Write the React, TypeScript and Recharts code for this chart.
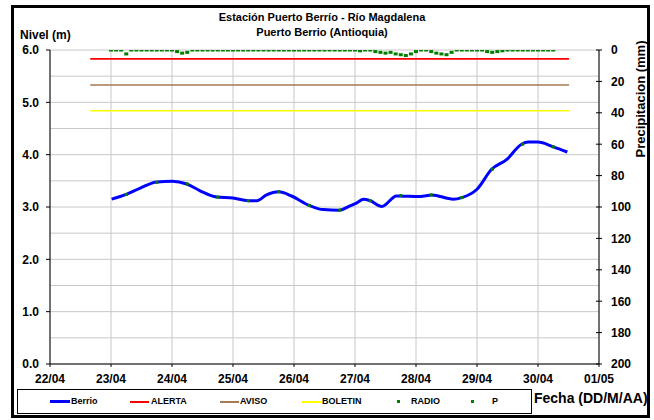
import React from 'react';
import { ComposedChart, Line, Scatter, XAxis, YAxis, CartesianGrid } from 'recharts';

// ---- data ----
const dateLabels = ['22/04', '23/04', '24/04', '25/04', '26/04', '27/04', '28/04', '29/04', '30/04', '01/05'];
const dayTicks = [0, 1, 2, 3, 4, 5, 6, 7, 8, 9];
const levelTicks = [0, 0.5, 1, 1.5, 2, 2.5, 3, 3.5, 4, 4.5, 5, 5.5, 6];
const precipTicks = [0, 20, 40, 60, 80, 100, 120, 140, 160, 180, 200];

// Berrio level (days since 22/04 00:00, metres)
const berrioTime = [1.01, 1.25, 1.48, 1.75, 2.0, 2.24, 2.46, 2.73, 3.0, 3.25, 3.39, 3.55, 3.75, 3.96, 4.25, 4.48, 4.74, 4.92, 5.03, 5.14, 5.25, 5.44, 5.68, 6.07, 6.26, 6.61, 6.75, 7.0, 7.24, 7.49, 7.73, 7.84, 8.0, 8.25, 8.48];
const berrioLevel = [3.15, 3.24, 3.36, 3.48, 3.49, 3.44, 3.31, 3.19, 3.17, 3.12, 3.12, 3.23, 3.29, 3.21, 3.03, 2.95, 2.94, 3.02, 3.08, 3.15, 3.12, 3.01, 3.21, 3.2, 3.23, 3.15, 3.18, 3.34, 3.72, 3.91, 4.2, 4.24, 4.24, 4.15, 4.05];

// RADIO readings
const radioTime = [1.25, 1.75, 2.25, 2.75, 3.25, 3.75, 4.25, 4.75, 5.25, 5.75, 6.25, 6.75, 7.25, 7.75, 8.25];
const radioLevel = [3.24, 3.47, 3.44, 3.19, 3.12, 3.29, 3.03, 2.94, 3.12, 3.22, 3.23, 3.18, 3.72, 4.2, 4.15];

// Precipitation P (mm), every 2 hours from 23/04 00:00
const pStartDay = 1;
const pStepHours = 2;
const pValues = [
  0, 0, 0, 2.5, 0, 0, 0, 0, 0, 0, 0, 0,
  0, 1, 2, 1.5, 0, 0, 0, 0, 0, 0, 0, 0,
  0, 0, 0, 0, 0, 0, 0, 0, 0, 0, 0, 0,
  0, 0, 0, 0, 0, 0, 0, 0, 0, 0, 0, 0,
  0, 0.5, 0, 0, 1, 1.5, 2, 1.5, 2.5, 3, 3.5, 2.5,
  1, 0, 0, 1, 2, 2.5, 3, 1.5, 0, 0, 0, 0,
  0, 0, 1, 1.5, 1, 0.5, 0, 0, 0, 0, 0, 0,
  0, 0, 0, 0,
];

// Threshold levels
const thresholdTime = [0.66, 8.51];
const alertaLevel = 5.83;
const avisoLevel = 5.33;
const boletinLevel = 4.84;

// ---- derived tables ----
const berrioData = berrioTime.map((t, i) => ({ t, v: berrioLevel[i] }));
const radioData = radioTime.map((t, i) => ({ t, v: radioLevel[i] }));
const pData = pValues.map((v, i) => ({ t: pStartDay + (i * pStepHours) / 24, v }));
const alertaData = thresholdTime.map((t) => ({ t, v: alertaLevel }));
const avisoData = thresholdTime.map((t) => ({ t, v: avisoLevel }));
const boletinData = thresholdTime.map((t) => ({ t, v: boletinLevel }));

const FONT = '"Liberation Sans", Arial, Helvetica, sans-serif';
const GREEN = '#008000';
const BROWN = '#A57A55';

const LeftTick = (props: any) => {
  const { x, y, payload } = props;
  const val = payload.value as number;
  if (Math.abs(val - Math.round(val)) > 1e-6) return <g />;
  return (
    <g>
      <line x1={x + 7} x2={x + 11} y1={y} y2={y} stroke="#000" />
      <text x={x} y={y} dy="0.36em" textAnchor="end" fontFamily={FONT} fontWeight="bold" fontSize={12} fill="#000">
        {val.toFixed(1)}
      </text>
    </g>
  );
};

const RightTick = (props: any) => {
  const { x, y, payload } = props;
  return (
    <g>
      <line x1={x - 15} x2={x - 9} y1={y} y2={y} stroke="#000" />
      <text x={x} y={y} dy="0.36em" textAnchor="start" fontFamily={FONT} fontWeight="bold" fontSize={12} fill="#000">
        {payload.value}
      </text>
    </g>
  );
};

const radioShape = (props: any) => (
  <rect x={props.cx - 1.5} y={props.cy - 1.5} width={3} height={3} fill={GREEN} />
);
const pShape = (props: any) => (
  <rect x={props.cx - 2} y={props.cy - 1.5} width={4} height={3} fill={GREEN} />
);

const legendText: React.CSSProperties = {
  position: 'absolute',
  top: 0,
  fontFamily: FONT,
  fontWeight: 'bold',
  fontSize: 9,
  lineHeight: '23px',
  color: '#000',
};

export default function App() {
  return (
    <div style={{ position: 'absolute', left: 0, top: 0, width: 654, height: 420, background: '#fff', overflow: 'hidden' }}>
      <div style={{ position: 'absolute', left: 11, top: 5, width: 633, height: 407, border: '3px solid #000' }} />
      <div style={{ position: 'absolute', left: 0, top: 0 }}>
        <ComposedChart width={654} height={420} margin={{ top: 50, right: 0, bottom: 36, left: 0 }}>
          <CartesianGrid yAxisId="lvl" stroke="#C8C8C8" strokeWidth={1} />
          <XAxis
            dataKey="t"
            type="number"
            domain={[0, 9]}
            ticks={dayTicks}
            interval={0}
            allowDataOverflow
            height={20}
            tickFormatter={(v: number) => dateLabels[v]}
            tickSize={3}
            tickMargin={7}
            axisLine={{ stroke: '#000' }}
            tickLine={{ stroke: '#000' }}
            tick={{ fontFamily: FONT, fontWeight: 'bold', fontSize: 12, fill: '#000' }}
          />
          <YAxis
            yAxisId="lvl"
            orientation="left"
            width={50}
            domain={[0, 6]}
            ticks={levelTicks}
            interval={0}
            allowDataOverflow
            tickLine={false}
            tickSize={0}
            tickMargin={11}
            axisLine={{ stroke: '#000' }}
            tick={LeftTick}
          />
          <YAxis
            yAxisId="pp"
            orientation="right"
            width={55}
            domain={[0, 200]}
            reversed
            ticks={precipTicks}
            interval={0}
            allowDataOverflow
            tickLine={false}
            tickSize={0}
            tickMargin={12}
            axisLine={{ stroke: '#000' }}
            tick={RightTick}
          />
          <Line yAxisId="lvl" data={alertaData} dataKey="v" type="linear" stroke="#FF0000" strokeWidth={1.6} dot={false} activeDot={false} isAnimationActive={false} />
          <Line yAxisId="lvl" data={avisoData} dataKey="v" type="linear" stroke={BROWN} strokeWidth={1.6} dot={false} activeDot={false} isAnimationActive={false} />
          <Line yAxisId="lvl" data={boletinData} dataKey="v" type="linear" stroke="#FFFF00" strokeWidth={1.6} dot={false} activeDot={false} isAnimationActive={false} />
          <Line yAxisId="lvl" data={berrioData} dataKey="v" type="monotone" stroke="#0000FF" strokeWidth={3} dot={false} activeDot={false} isAnimationActive={false} />
          <Scatter yAxisId="lvl" data={radioData} dataKey="v" shape={radioShape} isAnimationActive={false} />
          <Scatter yAxisId="pp" data={pData} dataKey="v" shape={pShape} isAnimationActive={false} />
        </ComposedChart>
      </div>

      {/* titles */}
      <div style={{ position: 'absolute', left: 0, width: 644, top: 10, textAlign: 'center', fontFamily: FONT, fontWeight: 'bold', fontSize: 11, lineHeight: '15px', color: '#000' }}>
        Estación Puerto Berrío - Río Magdalena
        <br />
        Puerto Berrio (Antioquia)
      </div>
      <div style={{ position: 'absolute', left: 20, top: 27, fontFamily: FONT, fontWeight: 'bold', fontSize: 12, lineHeight: '16px', color: '#000' }}>
        Nivel (m)
      </div>
      <div style={{ position: 'absolute', left: 641, top: 99, width: 0, height: 0 }}>
        <div style={{ position: 'absolute', left: -70, top: -8, width: 140, textAlign: 'center', transform: 'rotate(-90deg)', fontFamily: FONT, fontWeight: 'bold', fontSize: 13, lineHeight: '16px', color: '#000', whiteSpace: 'nowrap' }}>
          Precipitacion (mm)
        </div>
      </div>
      <div style={{ position: 'absolute', left: 534, top: 390, fontFamily: FONT, fontWeight: 'bold', fontSize: 14, lineHeight: '17px', color: '#000', whiteSpace: 'nowrap' }}>
        Fecha (DD/M/AA)
      </div>

      {/* legend */}
      <div style={{ position: 'absolute', left: 17, top: 389, width: 513, height: 23, border: '1px solid #000', background: '#fff' }}>
        <div style={{ position: 'absolute', left: 32, top: 10, width: 20, height: 3, background: '#0000FF' }} />
        <div style={{ ...legendText, left: 53 }}>Berrio</div>
        <div style={{ position: 'absolute', left: 112, top: 11, width: 19, height: 2, background: '#FF0000' }} />
        <div style={{ ...legendText, left: 133 }}>ALERTA</div>
        <div style={{ position: 'absolute', left: 202, top: 11, width: 19, height: 2, background: BROWN }} />
        <div style={{ ...legendText, left: 222 }}>AVISO</div>
        <div style={{ position: 'absolute', left: 284, top: 11, width: 19, height: 2, background: '#FFFF00' }} />
        <div style={{ ...legendText, left: 304 }}>BOLETIN</div>
        <div style={{ position: 'absolute', left: 379, top: 10, width: 3, height: 3, background: GREEN }} />
        <div style={{ ...legendText, left: 393 }}>RADIO</div>
        <div style={{ position: 'absolute', left: 453, top: 10, width: 3, height: 3, background: GREEN }} />
        <div style={{ ...legendText, left: 474 }}>P</div>
      </div>
    </div>
  );
}
